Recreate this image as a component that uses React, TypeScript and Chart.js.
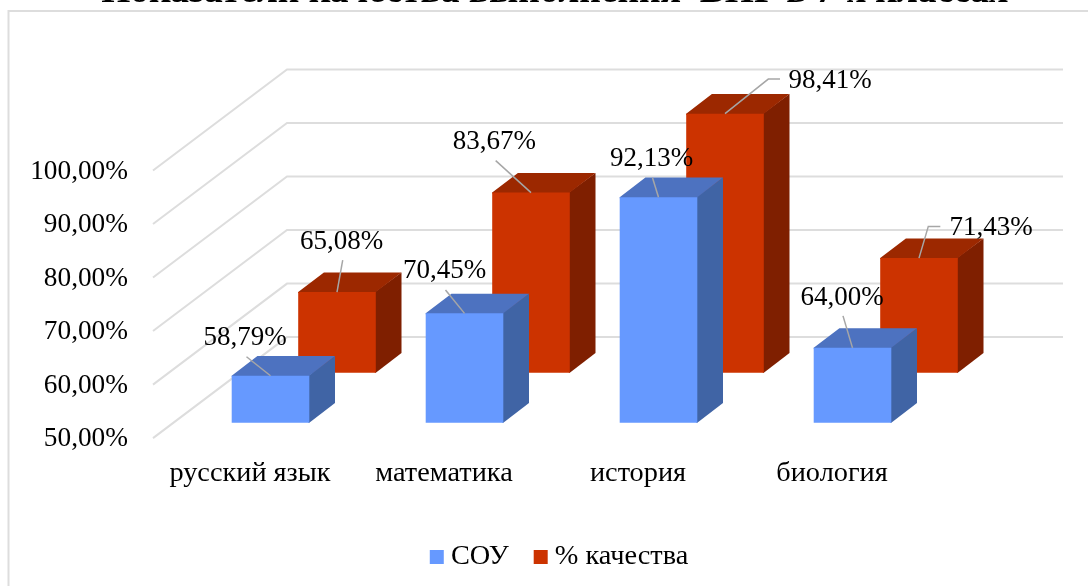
import React, { useEffect, useRef } from "react";
import { Chart, registerables } from "chart.js";

Chart.register(...registerables);

const categories = ["русский язык", "математика", "история", "биология"];
const souValues = [58.79, 70.45, 92.13, 64.0];
const qualityValues = [65.08, 83.67, 98.41, 71.43];
const seriesNames = ["СОУ", "% качества"];
const titleText = "Показатели качества выполнения  ВПР в 7-х классах";
const axisMin = 50;
const axisMax = 100;

const SERIF = "'Liberation Serif', 'Times New Roman', serif";
const NUMBER_FONT = 27;
const TICK_FONT = 27.3;
const WORD_FONT = 28.3;

// Pseudo-3D projection, in pixels
const depthWall = { dx: 134, dy: -101 };
const barDepth = { dx: 25.7, dy: -19.7 };
const seriesShift = [
  { dx: 20.5, dy: -15.3 },
  { dx: 87, dy: -65.3 },
];
const faceColors = [
  { top: "#4D72C0", side: "#4064A5" },
  { top: "#9C2800", side: "#7F1F00" },
];
// Label centre and leader bend offsets from the top-centre of each bar's front face
const labelPlacement = [
  [
    { lx: -25.3, ly: -37.7, path: [[-24, -19]] },
    { lx: -20, ly: -42.6, path: [[-19, -23.3]] },
    { lx: -7, ly: -38, path: [[-6, -19.6]] },
    { lx: -10.5, ly: -50, path: [[-9.5, -32]] },
  ],
  [
    { lx: 4.7, ly: -50, path: [[5.7, -32]] },
    { lx: -36.7, ly: -51, path: [[-35.3, -32]] },
    { lx: 105, ly: -33, path: [[43.3, -34.6], [55, -34.6]] },
    { lx: 72, ly: -30, path: [[9.3, -31.7], [21.3, -31.7]] },
  ],
];

const fmt = (v: number) => v.toFixed(2).replace(".", ",") + "%";

const scene3d = {
  id: "scene3d",
  beforeDraw(chart: any) {
    const { ctx } = chart;
    ctx.save();
    ctx.strokeStyle = "#DDDDDD";
    ctx.lineWidth = 2;
    ctx.beginPath();
    ctx.moveTo(8.5, 2000);
    ctx.lineTo(8.5, 11);
    ctx.lineTo(2000, 11);
    ctx.stroke();
    ctx.restore();
  },
  beforeDatasetsDraw(chart: any) {
    const { ctx, chartArea, scales } = chart;
    ctx.save();
    ctx.strokeStyle = "#DDDDDD";
    ctx.lineWidth = 2;
    for (const t of scales.y.ticks) {
      const y = scales.y.getPixelForValue(t.value);
      ctx.beginPath();
      ctx.moveTo(chartArea.left, y);
      ctx.lineTo(chartArea.left + depthWall.dx, y + depthWall.dy);
      ctx.lineTo(chartArea.right + depthWall.dx, y + depthWall.dy);
      ctx.stroke();
    }
    ctx.restore();
  },
  beforeDatasetDraw(chart: any, args: any) {
    const { ctx } = chart;
    const shift = seriesShift[args.index];
    const colors = faceColors[args.index];
    ctx.save();
    ctx.translate(shift.dx, shift.dy);
    for (const el of args.meta.data) {
      const l = el.x - el.width / 2;
      const r = el.x + el.width / 2;
      ctx.fillStyle = colors.side;
      ctx.beginPath();
      ctx.moveTo(r - 1, el.y);
      ctx.lineTo(r + barDepth.dx, el.y + barDepth.dy);
      ctx.lineTo(r + barDepth.dx, el.base + barDepth.dy);
      ctx.lineTo(r, el.base);
      ctx.lineTo(r - 1, el.base);
      ctx.closePath();
      ctx.fill();
      ctx.fillStyle = colors.top;
      ctx.beginPath();
      ctx.moveTo(l, el.y + 1);
      ctx.lineTo(l, el.y);
      ctx.lineTo(l + barDepth.dx, el.y + barDepth.dy);
      ctx.lineTo(r + barDepth.dx, el.y + barDepth.dy);
      ctx.lineTo(r, el.y);
      ctx.lineTo(r, el.y + 1);
      ctx.closePath();
      ctx.fill();
    }
  },
  afterDatasetDraw(chart: any) {
    chart.ctx.restore();
  },
  afterDatasetsDraw(chart: any) {
    const { ctx } = chart;
    ctx.save();
    ctx.textAlign = "center";
    ctx.textBaseline = "middle";
    ctx.font = `${NUMBER_FONT}px ${SERIF}`;
    chart.data.datasets.forEach((ds: any, di: number) => {
      const shift = seriesShift[di];
      chart.getDatasetMeta(di).data.forEach((el: any, i: number) => {
        const ax = el.x + shift.dx;
        const ay = el.y + shift.dy;
        const place = labelPlacement[di][i];
        ctx.strokeStyle = "#A6A6A6";
        ctx.lineWidth = 1.5;
        ctx.beginPath();
        ctx.moveTo(ax, ay);
        for (const [px, py] of place.path) ctx.lineTo(ax + px, ay + py);
        ctx.stroke();
        ctx.fillStyle = "#000";
        ctx.fillText(fmt(ds.data[i]), ax + place.lx, ay + place.ly);
      });
    });
    ctx.restore();
  },
  afterLayout(chart: any) {
    chart.legend.left += 98;
    chart.legend.right += 98;
    chart.titleBlock.left += 90;
    chart.titleBlock.right += 90;
  },
};

export default function App() {
  const ref = useRef<HTMLCanvasElement | null>(null);
  useEffect(() => {
    document.body.style.margin = "0";
    const chart = new Chart(ref.current as HTMLCanvasElement, {
      type: "bar",
      data: {
        labels: categories,
        datasets: [
          { label: seriesNames[0], data: souValues, backgroundColor: "#6699FF", base: axisMin, clip: false },
          { label: seriesNames[1], data: qualityValues, backgroundColor: "#CC3300", base: axisMin, clip: false },
        ],
      } as any,
      options: {
        animation: false,
        responsive: false,
        devicePixelRatio: 1,
        layout: { padding: { left: 0, right: 159, top: 0, bottom: 4.9 } },
        datasets: { bar: { grouped: false, categoryPercentage: 1, barPercentage: 0.4 } },
        plugins: {
          tooltip: { enabled: false },
          title: {
            display: true,
            text: titleText,
            color: "#000",
            font: { family: SERIF, size: 37.5, weight: "bold" },
            padding: { top: -30, bottom: 155.5 },
          },
          legend: {
            position: "bottom",
            labels: {
              usePointStyle: true,
              pointStyle: "rect",
              boxWidth: 0.01,
              boxHeight: 14,
              padding: 32,
              color: "#000",
              font: { family: SERIF, size: WORD_FONT },
            },
          },
        },
        scales: {
          x: {
            grid: { display: false },
            border: { display: false },
            afterFit(s: any) {
              s.height = 72.7;
            },
            ticks: {
              color: "#000",
              padding: 10,
              maxRotation: 0,
              font: { family: SERIF, size: WORD_FONT },
            },
          },
          y: {
            min: axisMin,
            max: axisMax,
            grid: { display: false },
            border: { display: false },
            afterFit(s: any) {
              s.width = 153;
            },
            ticks: {
              stepSize: 10,
              color: "#000",
              padding: 17,
              labelOffset: 1,
              font: { family: SERIF, size: TICK_FONT },
              callback: (v: any) => fmt(Number(v)),
            },
          },
        },
      },
      plugins: [scene3d],
    } as any);
    return () => chart.destroy();
  }, []);
  return (
    <div style={{ position: "fixed", left: 0, top: 0, width: 1088, height: 586, overflow: "hidden", background: "#fff" }}>
      <canvas ref={ref} width={1088} height={586} style={{ display: "block" }} />
    </div>
  );
}
